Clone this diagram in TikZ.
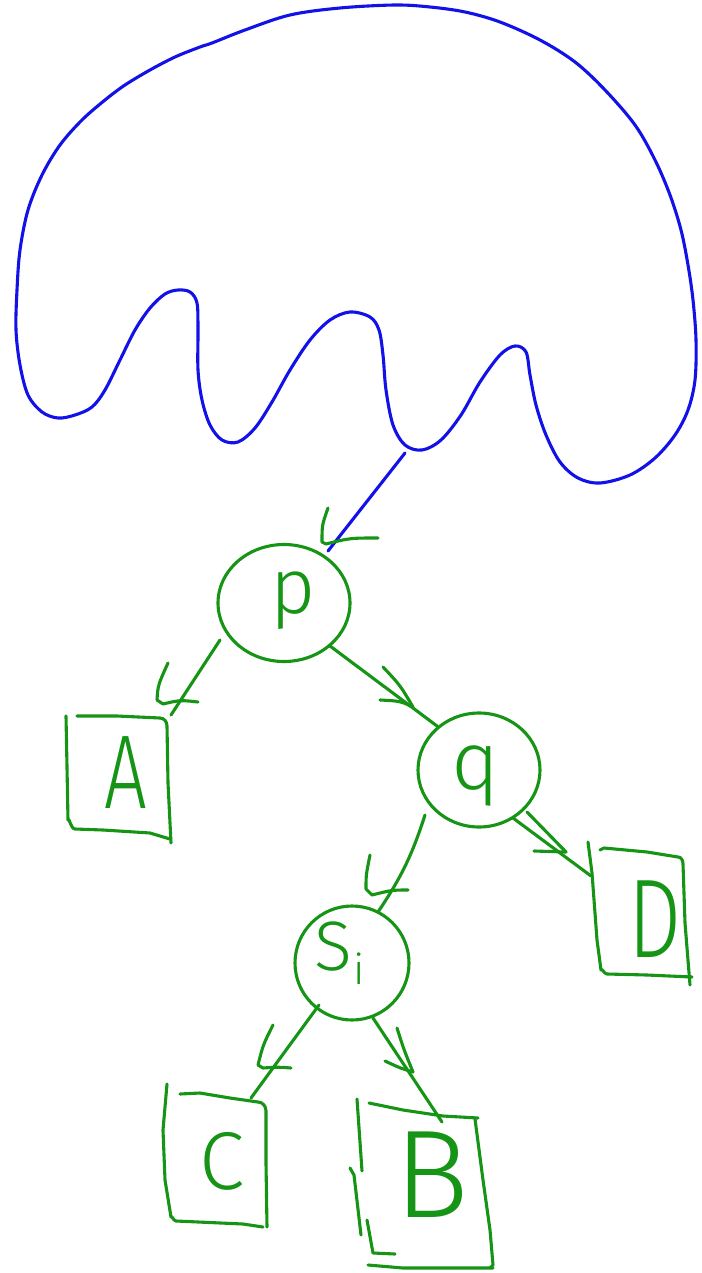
\documentclass[tikz,border=0pt]{standalone}
\usepackage{fontspec}
\newfontfamily\hand{Fira Sans}[UprightFont={* Light}]
\usetikzlibrary{shapes.geometric}
\definecolor{ink}{RGB}{22,148,22}
\definecolor{pen}{RGB}{18,18,232}
\begin{document}
\begin{tikzpicture}[x=1pt,y=-1pt,
  stroke/.style={ink, line width=3.1pt, line cap=round, line join=round},
  outline/.style={pen, line width=3.1pt, line cap=round, line join=round},
  vertex/.style={draw=ink, ellipse, line width=3.1pt, inner sep=0pt},
  letter/.style={ink, inner sep=0pt}]
\useasboundingbox (0,0) rectangle (701,1273);

% subtree above the root: closed blue outline
\draw[outline] plot[smooth cycle, tension=0.55] coordinates {
  (212,43) (245,30) (290,15) (340,8) (395,5) (430,7) (465,12) (500,22)
  (540,40) (575,62) (605,90) (635,125) (655,160) (670,195) (681,230)
  (688,265) (693,300) (696,340) (695,380) (688,410) (675,435) (655,458)
  (630,475) (600,483) (578,478) (560,462) (546,435) (536,405) (530,375)
  (526,352) (515,346) (500,355) (480,382) (461,415) (441,440) (422,450)
  (405,445) (393,425) (386,390) (383,355) (379,330) (370,317) (350,312)
  (330,320) (310,340) (290,370) (272,402) (255,428) (238,442) (222,440)
  (210,425) (202,400) (198,370) (198,330) (197,303) (190,292) (178,290)
  (165,294) (150,308) (135,330) (120,360) (105,390) (92,407) (75,415)
  (58,418) (42,412) (28,395) (20,365) (16,330) (17,290) (20,250)
  (28,210) (42,175) (60,145) (82,120) (105,100) (125,85) (150,70)
  (175,57) (200,47)};

% inner vertices
\node[vertex, minimum width=132pt, minimum height=117pt] (p) at (284,603) {};
\node[vertex, minimum width=122pt, minimum height=114pt] (q) at (479,770) {};
\node[vertex, minimum width=114pt, minimum height=114pt] (s) at (352,963) {};

\node[letter, font=\hand\fontsize{78}{78}\selectfont] (lp) at (293,601) {p};
\node[letter, font=\hand\fontsize{82}{82}\selectfont] (lq) at (475,776) {q};
\node[letter, font=\hand\fontsize{70}{70}\selectfont, anchor=base west] (ls) at (314,970)
  {S\kern2pt\raisebox{-14pt}{\fontsize{42}{42}\selectfont i}};

% leaves
\node[letter, font=\hand\fontsize{105}{105}\selectfont] (A) at (126,773) {\scalebox{0.72}[1]{A}};
\node[letter, font=\hand\fontsize{112}{112}\selectfont] (D) at (655,919) {\scalebox{0.75}[1]{D}};
\node[letter, font=\hand\fontsize{82}{82}\selectfont] (C) at (222,1161) {C};
\node[letter, font=\hand\fontsize{125}{125}\selectfont] (B) at (432,1175) {B};

% hand-drawn leaf boxes
\draw[stroke] (66,716) -- (67,767) -- (68,820) to[out=80,in=180] (75,829) -- (103,830) -- (150,833) -- (170,839);
\draw[stroke] (77,716) -- (117,716) -- (160,718) to[out=0,in=90] (167,726) -- (168,783) -- (171,843);

\draw[stroke] (588,842) -- (592,873) -- (597,940) -- (601,970) to[out=80,in=180] (607,974) -- (647,975) -- (692,977);
\draw[stroke] (600,850) -- (604,848) -- (647,852) -- (678,857) to[out=0,in=90] (683,864) -- (685,923) -- (690,985);

\draw[stroke] (167,1084) -- (163,1130) -- (165,1180) -- (171,1217) to[out=80,in=180] (176,1221) -- (243,1224) -- (263,1227);
\draw[stroke] (180,1094) -- (200,1093) -- (230,1098) -- (258,1102) to[out=0,in=90] (266,1111) -- (266,1163) -- (267,1227);

\draw[stroke] (357,1099) -- (362,1171);
\draw[stroke] (350,1168) -- (354,1175) -- (361,1235);
\draw[stroke] (367,1220) -- (373,1253) -- (395,1254);
\draw[stroke] (369,1103) -- (403,1110) -- (443,1116) -- (478,1118);
\draw[stroke] (475,1119) -- (483,1180) -- (490,1230) -- (493,1265) -- (490,1268);
\draw[stroke] (368,1265) -- (403,1268) -- (493,1268);

% connector end points
\coordinate (t0) at (405,453);   \coordinate (t1) at (328,551);
\coordinate (pa0) at (220,640);  \coordinate (pa1) at (171,715);
\coordinate (pq0) at (330,646);  \coordinate (pq1) at (437,726);
\coordinate (qs0) at (425,815);  \coordinate (qs1) at (378,912);
\coordinate (qd0) at (513,818);  \coordinate (qd1) at (591,876);
\coordinate (sc0) at (319,1005); \coordinate (sc1) at (251,1098);
\coordinate (sb0) at (373,1018); \coordinate (sb1) at (442,1122);

% connectors
\draw[outline] (t0) -- (t1);
\draw[stroke] (pa0) -- (pa1);
\draw[stroke] (pq0) -- (pq1);
\draw[stroke] (qs0) to[bend left=8] (qs1);
\draw[stroke] (qd0) -- (qd1);
\draw[stroke] (sc0) -- (sc1);
\draw[stroke] (sb0) -- (sb1);

% hand-drawn arrowheads on the connectors
\draw[stroke] (328,508) .. controls (322,525) .. (322,542) -- (326,544) .. controls (350,538) .. (378,538);
\draw[stroke] (168,663) .. controls (158,685) .. (157,700) -- (163,704) .. controls (180,700) .. (198,702);
\draw[stroke] (383,667) .. controls (400,685) .. (413,707);
\draw[stroke] (380,700) .. controls (400,701) .. (413,707);
\draw[stroke] (370,855) .. controls (366,875) .. (366,889) -- (372,895) .. controls (392,890) .. (408,890);
\draw[stroke] (527,812) -- (566,852);
\draw[stroke] (534,851) -- (566,852);
\draw[stroke] (273,1025) .. controls (263,1045) .. (258,1065) -- (263,1068) .. controls (278,1067) .. (291,1068);
\draw[stroke] (397,1028) .. controls (404,1050) .. (413,1072);
\draw[stroke] (385,1061) .. controls (400,1068) .. (413,1072);
\end{tikzpicture}
\end{document}
